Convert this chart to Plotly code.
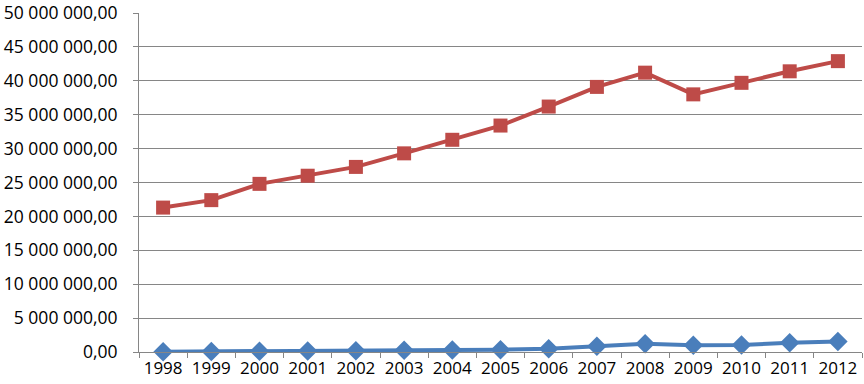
import plotly.graph_objects as go

years = [str(y) for y in range(1998, 2013)]
red_values = [21.3e6, 22.4e6, 24.8e6, 26.0e6, 27.3e6, 29.3e6, 31.3e6, 33.4e6,
              36.2e6, 39.1e6, 41.2e6, 38.0e6, 39.7e6, 41.4e6, 42.9e6]
blue_values = [0.05e6, 0.07e6, 0.1e6, 0.15e6, 0.2e6, 0.25e6, 0.3e6, 0.35e6,
               0.48e6, 0.83e6, 1.2e6, 1.0e6, 1.05e6, 1.35e6, 1.56e6]
y_ticks = [i * 5_000_000 for i in range(11)]


def fmt(v):
    s = f"{int(v):,}".replace(",", " ")
    return s + ",00"


y_labels = [fmt(v) for v in y_ticks]

fig = go.Figure()
fig.add_trace(go.Scatter(
    x=years, y=blue_values, mode="lines+markers",
    line=dict(color="#4A7EBB", width=4),
    marker=dict(symbol="diamond", size=15, color="#4A7EBB"),
    showlegend=False, cliponaxis=False))
fig.add_trace(go.Scatter(
    x=years, y=red_values, mode="lines+markers",
    line=dict(color="#BE4B48", width=4),
    marker=dict(symbol="square", size=14, color="#BE4B48"),
    showlegend=False, cliponaxis=False))

fig.update_layout(
    width=864, height=384,
    margin=dict(l=139, r=2, t=13, b=32),
    paper_bgcolor="white", plot_bgcolor="white",
    font=dict(family="Open Sans, Liberation Sans, sans-serif", size=17.5, color="#000000"),
    xaxis=dict(
        type="category", tickson="boundaries", ticks="outside", ticklen=5,
        tickcolor="#868686", showline=True, linecolor="#868686", linewidth=1,
        showgrid=False, range=[-0.5, 14.5], tickfont=dict(size=17),
        automargin=False, ticklabelstandoff=1, tickangle=0,
    ),
    yaxis=dict(
        range=[0, 50_000_000], tickvals=y_ticks, ticktext=y_labels,
        ticks="outside", ticklen=5, tickcolor="#868686",
        showline=True, linecolor="#868686", linewidth=1,
        showgrid=True, gridcolor="#868686", gridwidth=1,
        zeroline=False, tickfont=dict(size=17.5), automargin=False,
        ticklabeloverflow="allow", ticklabelstandoff=12,
    ),
)

fig.write_html("out.html", config={"displayModeBar": False},
               post_script="document.body.style.margin='0';")
